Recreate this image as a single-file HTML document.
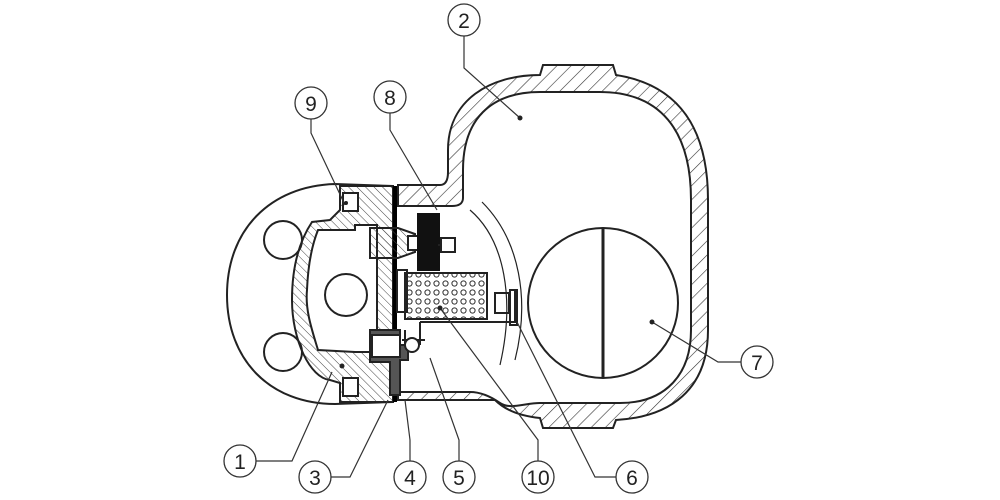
<!DOCTYPE html>
<html><head><meta charset="utf-8"><style>
html,body{margin:0;padding:0;background:#fff;}
svg{display:block;}
text{font-family:"Liberation Sans",sans-serif;font-size:21px;fill:#222;}
</style></head><body>
<svg width="1000" height="500" viewBox="0 0 1000 500" xmlns="http://www.w3.org/2000/svg">
<defs>
<pattern id="h1" width="10" height="10" patternUnits="userSpaceOnUse" patternTransform="rotate(45)">
<line x1="0" y1="0" x2="0" y2="10" stroke="#333" stroke-width="1.2"/></pattern>
<pattern id="h2" width="6" height="6" patternUnits="userSpaceOnUse" patternTransform="rotate(-45)">
<line x1="0" y1="0" x2="0" y2="6" stroke="#444" stroke-width="1"/></pattern>
<pattern id="dots" width="9" height="9" patternUnits="userSpaceOnUse">
<circle cx="4.5" cy="4.5" r="2.6" fill="none" stroke="#333" stroke-width="1"/></pattern>
</defs>
<g fill="none" stroke="#222" stroke-width="2">
<path fill="url(#h1)" fill-rule="evenodd" d="M543 65 L613 65 L616 75 C680 85 708 130 708 200 L708 330 C708 390 670 417 616 420 L613 428 L543 428 L540 418 C520 416 505 410 495 400 L398 400 L398 392 L440 392 L470 392 C480 392 490 396 500 403 C510 410 525 403 540 403 L620 403 C665 403 691 375 691 330 L691 200 C691 130 660 92 600 92 L540 92 C490 92 463 120 463 170 L463 198 C463 204 458 206 452 206 L398 206 L398 185 L440 185 C446 185 448 180 448 172 L448 150 C448 100 490 75 540 75 Z"/>
<path d="M393 186 L335 184 C270 186 227 230 227 295 C227 360 270 404 335 404 L393 402"/>
<circle cx="283" cy="240" r="19"/>
<circle cx="283" cy="352" r="19"/>
<path fill="url(#h2)" d="M340 186 L393 186 L393 402 L340 402 L340 383 L330 380 C310 378 292 340 292 300 C292 265 300 240 312 222 L330 220 L340 210 Z"/>
<path fill="#fff" d="M318 230 L355 230 L355 225 L377 225 L377 352 L355 352 L318 350 C312 330 305 310 307 290 C308 265 312 245 318 230 Z"/>
<circle cx="346" cy="295" r="21" fill="#fff"/>
<rect x="343" y="193" width="15" height="18" fill="#fff"/>
<rect x="343" y="378" width="15" height="18" fill="#fff"/>
<line x1="395" y1="186" x2="395" y2="402" stroke="#000" stroke-width="4"/>
<path fill="url(#h2)" d="M370 228 L398 228 L415 234 L415 252 L398 258 L370 258 Z"/>
<rect x="408" y="236" width="18" height="14" fill="#fff"/>
<rect x="418" y="214" width="21" height="56" fill="#111" stroke="#111"/>
<rect x="441" y="238" width="14" height="14"/>
<line x1="438" y1="245" x2="441" y2="245"/>
<rect x="405" y="273" width="82" height="46" fill="url(#dots)"/>
<rect x="397" y="270" width="10" height="42"/>
<path d="M405 330 L405 345 M420 322 L515 322 L515 290 M420 322 L420 345 M402 340 L425 340"/>
<rect x="510" y="290" width="7" height="35"/>
<rect x="495" y="293" width="14" height="20"/>
<path fill="#555" d="M370 330 L400 330 L400 345 L408 345 L408 360 L400 360 L400 395 L390 395 L390 362 L370 362 Z"/>
<rect x="372" y="335" width="28" height="22" fill="#fff"/>
<circle cx="412" cy="345" r="7" fill="#fff"/>
<circle cx="603" cy="303" r="75" fill="#fff"/>
<line x1="603" y1="228" x2="603" y2="378" stroke-width="3"/>
<path stroke-width="1.2" d="M470 210 C505 240 515 300 500 365 M482 202 C520 240 530 300 515 360"/>
</g>
<g fill="none" stroke="#333" stroke-width="1.2">
<path d="M464 36 L464 68 L520 118"/>
<path d="M311 119 L311 133 L345 205"/>
<path d="M390 113 L390 130 L437 210"/>
<path d="M741 362 L718 362 L652 322"/>
<path d="M256 461 L292 461 L332 372"/>
<path d="M331 477 L350 477 L388 400"/>
<path d="M410 461 L410 440 L405 400"/>
<path d="M459 461 L459 440 L430 358"/>
<path d="M538 461 L538 440 L440 308"/>
<path d="M616 477 L595 477 L517 322"/>
</g>
<g fill="#222"><circle cx="520" cy="118" r="2.5"/><circle cx="652" cy="322" r="2.5"/><circle cx="440" cy="308" r="2.5"/><circle cx="342" cy="366" r="2.5"/><circle cx="346" cy="203" r="2"/></g>
<g fill="#fff" stroke="#333" stroke-width="1.3">
<circle cx="464" cy="20" r="16"/><circle cx="311" cy="103" r="16"/><circle cx="390" cy="97" r="16"/>
<circle cx="757" cy="362" r="16"/><circle cx="240" cy="461" r="16"/><circle cx="315" cy="477" r="16"/>
<circle cx="410" cy="477" r="16"/><circle cx="459" cy="477" r="16"/><circle cx="538" cy="477" r="16"/><circle cx="632" cy="477" r="16"/>
</g>
<g text-anchor="middle">
<text x="464" y="28">2</text><text x="311" y="111">9</text><text x="390" y="105">8</text>
<text x="757" y="370">7</text><text x="240" y="469">1</text><text x="315" y="485">3</text>
<text x="410" y="485">4</text><text x="459" y="485">5</text><text x="538" y="485">10</text><text x="632" y="485">6</text>
</g>
</svg>
</body></html>
